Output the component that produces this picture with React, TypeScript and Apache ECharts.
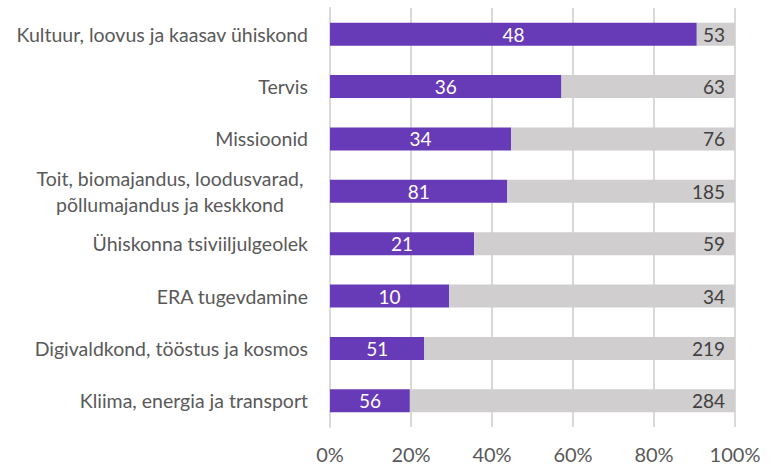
import React, { useEffect, useRef } from "react";
import * as echarts from "echarts";

const categories = [
  "Kultuur, loovus ja kaasav ühiskond",
  "Tervis",
  "Missioonid",
  "Toit, biomajandus, loodusvarad,\npõllumajandus ja keskkond",
  "Ühiskonna tsiviiljulgeolek",
  "ERA tugevdamine",
  "Digivaldkond, tööstus ja kosmos",
  "Kliima, energia ja transport",
];
const funded = [48, 36, 34, 81, 21, 10, 51, 56];
const totals = [53, 63, 76, 185, 59, 34, 219, 284];
const xTicks = [0, 20, 40, 60, 80, 100];

const FONT = "Lato";
const TEXT = "#595959";

export default function App() {
  const ref = useRef<HTMLDivElement>(null);
  useEffect(() => {
    document.body.style.margin = "0";
    if (!ref.current) return;
    const chart = echarts.init(ref.current, null, { renderer: "svg" });
    const fundedPct = funded.map((v, i) => (v / totals[i]) * 100);
    const restPct = funded.map((v, i) => 100 - (v / totals[i]) * 100);
    chart.setOption({
      animation: false,
      textStyle: { fontFamily: FONT },
      grid: { left: 330, right: 36, top: 8, bottom: 41, containLabel: false },
      xAxis: {
        type: "value",
        min: xTicks[0],
        max: xTicks[xTicks.length - 1],
        interval: 20,
        axisLine: { show: false },
        axisTick: { show: false },
        splitLine: { show: true, lineStyle: { color: "#D9D9D9", width: 2 } },
        axisLabel: {
          formatter: "{value}%",
          color: TEXT,
          fontSize: 20,
          lineHeight: 20,
          fontFamily: FONT,
          margin: 17,
        },
      },
      yAxis: {
        type: "category",
        inverse: true,
        data: categories,
        axisLine: { show: true, lineStyle: { color: "#D9D9D9", width: 2 } },
        axisTick: { show: false },
        axisLabel: {
          color: TEXT,
          fontSize: 19.5,
          fontFamily: FONT,
          margin: 22,
          formatter: (val: string) => {
            if (val.indexOf("\n") >= 0) {
              const parts = val.split("\n");
              return parts.map((p) => "{c|" + p + "}").join("\n");
            }
            return val;
          },
          rich: {
            c: {
              width: 276,
              align: "center",
              color: TEXT,
              fontSize: 19.5,
              fontFamily: FONT,
              lineHeight: 26,
            },
          },
        },
      },
      series: [
        {
          type: "bar",
          stack: "s",
          data: fundedPct,
          barWidth: 23,
          itemStyle: { color: "#673AB7" },
          label: {
            show: true,
            position: "inside",
            color: "#FFFFFF",
            fontSize: 19,
            fontFamily: FONT,
            formatter: (p: any) => String(funded[p.dataIndex]),
          },
        },
        {
          type: "bar",
          stack: "s",
          data: restPct,
          barWidth: 23,
          itemStyle: { color: "#D0CECF" },
          label: {
            show: true,
            position: "insideRight",
            distance: 10,
            color: "#404040",
            fontSize: 19,
            fontFamily: FONT,
            formatter: (p: any) => String(totals[p.dataIndex]),
          },
        },
      ],
    });
    return () => chart.dispose();
  }, []);
  return <div ref={ref} style={{ width: 771, height: 468 }} />;
}
